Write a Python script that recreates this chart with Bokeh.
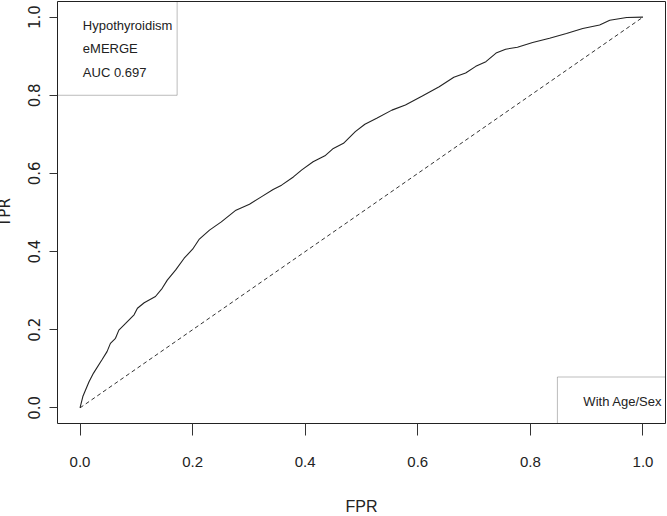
from bokeh.plotting import figure
from bokeh.models import FixedTicker, NumeralTickFormatter, Range1d, BoxAnnotation, Label
from bokeh.embed import file_html
from bokeh.resources import INLINE

# ROC curve
fpr = [0, .005, .016, .024, .039, .048, .054, .063, .069, .081, .096, .102, .114, .134,
       .146, .155, .170, .185, .200, .212, .230, .251, .277, .301, .322, .343, .358, .379,
       .394, .414, .435, .450, .468, .489, .506, .527, .554, .578, .608, .638, .664, .685,
       .703, .721, .739, .756, .777, .804, .834, .864, .893, .923, .941, .971, 1.0]
tpr = [0, .029, .067, .089, .123, .144, .165, .178, .199, .216, .238, .255, .269, .285,
       .306, .327, .353, .383, .406, .432, .455, .476, .506, .521, .540, .559, .570, .591,
       .609, .630, .645, .664, .677, .707, .726, .741, .762, .775, .798, .822, .846, .857,
       .874, .886, .908, .918, .923, .935, .946, .958, .971, .980, .992, .999, 1.0]
diag_x = [0, 1]
diag_y = [0, 1]

x_ticks = [0.0, 0.2, 0.4, 0.6, 0.8, 1.0]
y_ticks = [0.0, 0.2, 0.4, 0.6, 0.8, 1.0]
legend_lines = ["Hypothyroidism", "eMERGE", "AUC 0.697"]
model_label = "With Age/Sex"

NARROW = "Liberation Sans"
WIDE = "DejaVu Sans"

p = figure(width=675, height=517, output_backend="svg", toolbar_location=None,
           x_range=Range1d(-0.04, 1.04), y_range=Range1d(-0.04, 1.04),
           min_border_left=60, min_border_right=2, min_border_top=1, min_border_bottom=92,
           x_axis_label="FPR", y_axis_label="TPR")
p.margin = (0, 0, 0, -8)
p.background_fill_color = "white"
p.border_fill_color = "white"
p.outline_line_color = "#222222"
p.outline_line_width = 1
p.grid.visible = False

# axes
p.xaxis.ticker = FixedTicker(ticks=x_ticks)
p.yaxis.ticker = FixedTicker(ticks=y_ticks)
p.xaxis.formatter = NumeralTickFormatter(format="0.0")
p.yaxis.formatter = NumeralTickFormatter(format="0.0")
for ax in (p.xaxis[0], p.yaxis[0]):
    ax.axis_line_color = None
    ax.minor_tick_line_color = None
    ax.major_tick_in = 0
    ax.major_tick_line_color = "#333333"
    ax.major_label_text_color = "#222222"
    ax.axis_label_text_color = "#222222"
    ax.axis_label_text_font_style = "normal"

p.xaxis.major_tick_out = 12
p.xaxis.major_label_standoff = 21
p.xaxis.major_label_text_font = NARROW
p.xaxis.major_label_text_font_size = "15px"
p.xaxis.axis_label_text_font = NARROW
p.xaxis.axis_label_text_font_size = "16px"
p.xaxis.axis_label_standoff = 28

p.yaxis.major_tick_out = 8
p.yaxis.major_label_standoff = 9
p.yaxis.major_label_orientation = "vertical"
p.yaxis.major_label_text_font = WIDE
p.yaxis.major_label_text_font_size = "15px"
p.yaxis.axis_label_text_font = WIDE
p.yaxis.axis_label_text_font_size = "15px"
p.yaxis.axis_label_standoff = 12

# curves
p.line(diag_x, diag_y, line_color="#333333", line_width=1, line_dash="4 3")
p.line(fpr, tpr, line_color="#222222", line_width=1.1)

# legend boxes (R style)
p.add_layout(BoxAnnotation(left=-0.04, right=0.1725, bottom=0.80, top=1.04,
                           fill_alpha=0, line_color="#222222", line_width=1))
p.add_layout(BoxAnnotation(left=0.848, right=1.04, bottom=-0.04, top=0.079,
                           fill_alpha=0, line_color="#222222", line_width=1))

ys = [0.9786, 0.9198, 0.8585]
for txt, yy in zip(legend_lines, ys):
    p.add_layout(Label(x=0.005, y=yy, text=txt, text_baseline="middle", text_align="left",
                       text_font=NARROW, text_font_size="13px", text_color="#222222"))
p.add_layout(Label(x=1.034, y=0.0168, text=model_label, text_baseline="middle",
                   text_align="right", text_font=NARROW, text_font_size="13px",
                   text_color="#222222"))

open("out.html", "w").write(file_html(p, INLINE))
